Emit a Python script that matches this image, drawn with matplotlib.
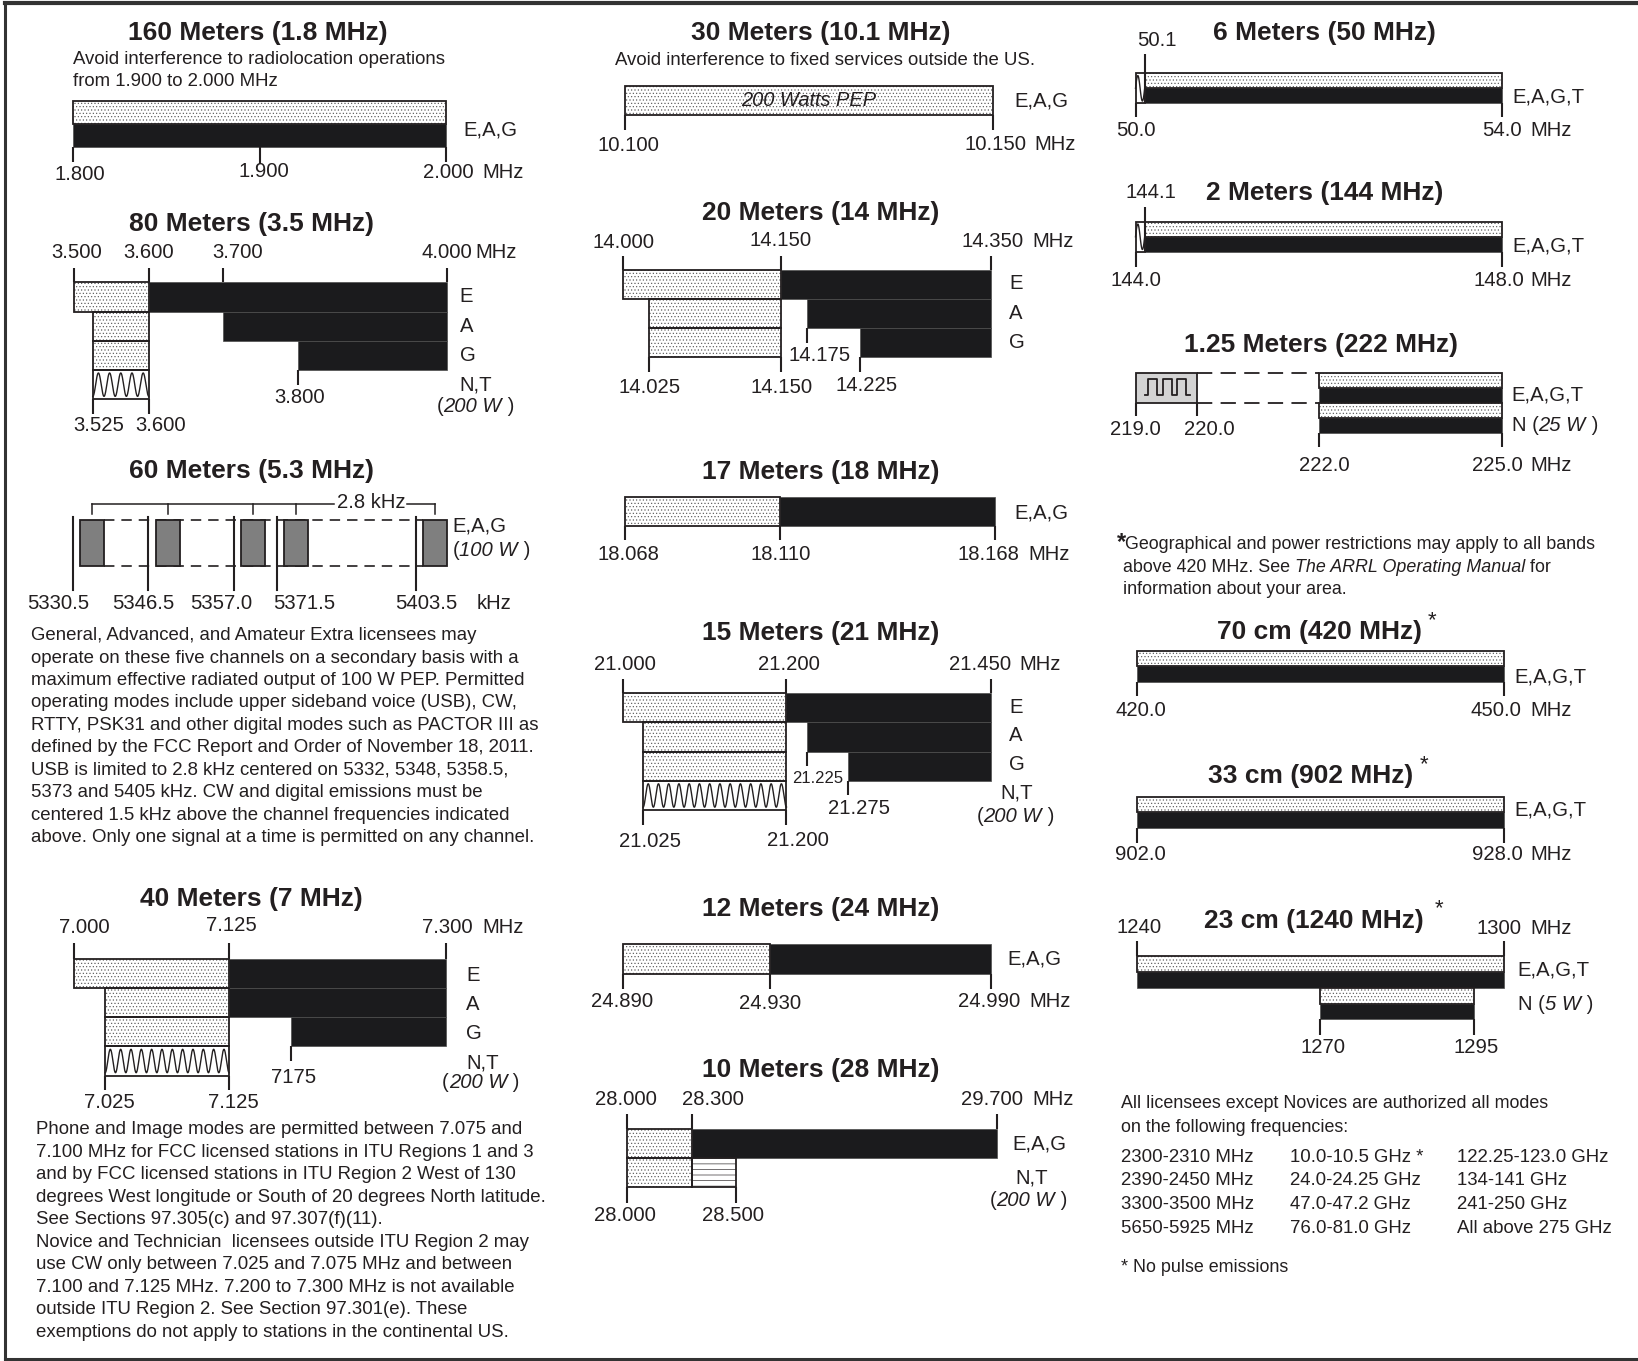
import numpy as np
import matplotlib
matplotlib.use("Agg")
import matplotlib.pyplot as plt
from matplotlib.patches import Rectangle

plt.rcParams['font.family'] = ['Liberation Sans', 'DejaVu Sans']
plt.rcParams['hatch.linewidth'] = 0.45
plt.rcParams['lines.scale_dashes'] = False

# ======================= DATA =======================
# segment tuples: (kind, start MHz, end MHz, lane, n_lanes)
b160_title = "160 Meters (1.8 MHz)"
b160_note = ["Avoid interference to radiolocation operations", "from 1.900 to 2.000 MHz"]
b160_range = [1.800, 2.000]
b160_segs = [("stip", 1.800, 2.000, 0, 1), ("black", 1.800, 2.000, 1, 1)]
b160_tick_f = [1.800, 1.900, 2.000]
b160_tick_lbl = ["1.800", "1.900", "2.000"]
b160_rows = ["E,A,G"]

b80_title = "80 Meters (3.5 MHz)"
b80_range = [3.500, 4.000]
b80_segs = [("stip", 3.500, 3.600, 0, 1), ("black", 3.600, 4.000, 0, 1),
            ("stip", 3.525, 3.600, 1, 1), ("black", 3.700, 4.000, 1, 1),
            ("stip", 3.525, 3.600, 2, 1), ("black", 3.800, 4.000, 2, 1),
            ("wave", 3.525, 3.600, 3, 1)]
b80_tick_f = [3.500, 3.600, 3.700, 4.000, 3.525, 3.600, 3.800]
b80_tick_lbl = ["3.500", "3.600", "3.700", "4.000", "3.525", "3.600", "3.800"]
b80_rows = ["E", "A", "G", "N,T"]
b80_power = "200 W"

b60_title = "60 Meters (5.3 MHz)"
b60_channels = ["5330.5", "5346.5", "5357.0", "5371.5", "5403.5"]
b60_bandwidth = "2.8 kHz"
b60_rows = ["E,A,G"]
b60_power = "100 W"
b60_text = ["General, Advanced, and Amateur Extra licensees may",
            "operate on these five channels on a secondary basis with a",
            "maximum effective radiated output of 100 W PEP. Permitted",
            "operating modes include upper sideband voice (USB), CW,",
            "RTTY, PSK31 and other digital modes such as PACTOR III as",
            "defined by the FCC Report and Order of November 18, 2011.",
            "USB is limited to 2.8 kHz centered on 5332, 5348, 5358.5,",
            "5373 and 5405 kHz. CW and digital emissions must be",
            "centered 1.5 kHz above the channel frequencies indicated",
            "above. Only one signal at a time is permitted on any channel."]

b40_title = "40 Meters (7 MHz)"
b40_range = [7.000, 7.300]
b40_segs = [("stip", 7.000, 7.125, 0, 1), ("black", 7.125, 7.300, 0, 1),
            ("stip", 7.025, 7.125, 1, 1), ("black", 7.125, 7.300, 1, 1),
            ("stip", 7.025, 7.125, 2, 1), ("black", 7.175, 7.300, 2, 1),
            ("wave", 7.025, 7.125, 3, 1)]
b40_tick_f = [7.000, 7.125, 7.300, 7.025, 7.125, 7.175]
b40_tick_lbl = ["7.000", "7.125", "7.300", "7.025", "7.125", "7175"]
b40_rows = ["E", "A", "G", "N,T"]
b40_power = "200 W"
b40_text = ["Phone and Image modes are permitted between 7.075 and",
            "7.100 MHz for FCC licensed stations in ITU Regions 1 and 3",
            "and by FCC licensed stations in ITU Region 2 West of 130",
            "degrees West longitude or South of 20 degrees North latitude.",
            "See Sections 97.305(c) and 97.307(f)(11).",
            "Novice and Technician  licensees outside ITU Region 2 may",
            "use CW only between 7.025 and 7.075 MHz and between",
            "7.100 and 7.125 MHz. 7.200 to 7.300 MHz is not available",
            "outside ITU Region 2. See Section 97.301(e). These",
            "exemptions do not apply to stations in the continental US."]

b30_title = "30 Meters (10.1 MHz)"
b30_note = "Avoid interference to fixed services outside the US."
b30_range = [10.100, 10.150]
b30_segs = [("stip", 10.100, 10.150, 0, 1)]
b30_inside = "200 Watts PEP"
b30_tick_f = [10.100, 10.150]
b30_tick_lbl = ["10.100", "10.150"]
b30_rows = ["E,A,G"]

b20_title = "20 Meters (14 MHz)"
b20_range = [14.000, 14.350]
b20_segs = [("stip", 14.000, 14.150, 0, 1), ("black", 14.150, 14.350, 0, 1),
            ("stip", 14.025, 14.150, 1, 1), ("black", 14.175, 14.350, 1, 1),
            ("stip", 14.025, 14.150, 2, 1), ("black", 14.225, 14.350, 2, 1)]
b20_tick_f = [14.000, 14.150, 14.350, 14.025, 14.150, 14.175, 14.225]
b20_tick_lbl = ["14.000", "14.150", "14.350", "14.025", "14.150", "14.175", "14.225"]
b20_rows = ["E", "A", "G"]

b17_title = "17 Meters (18 MHz)"
b17_range = [18.068, 18.168]
b17_segs = [("stip", 18.068, 18.110, 0, 1), ("black", 18.110, 18.168, 0, 1)]
b17_tick_f = [18.068, 18.110, 18.168]
b17_tick_lbl = ["18.068", "18.110", "18.168"]
b17_rows = ["E,A,G"]

b15_title = "15 Meters (21 MHz)"
b15_range = [21.000, 21.450]
b15_segs = [("stip", 21.000, 21.200, 0, 1), ("black", 21.200, 21.450, 0, 1),
            ("stip", 21.025, 21.200, 1, 1), ("black", 21.225, 21.450, 1, 1),
            ("stip", 21.025, 21.200, 2, 1), ("black", 21.275, 21.450, 2, 1),
            ("wave", 21.025, 21.200, 3, 1)]
b15_tick_f = [21.000, 21.200, 21.450, 21.225, 21.275, 21.025, 21.200]
b15_tick_lbl = ["21.000", "21.200", "21.450", "21.225", "21.275", "21.025", "21.200"]
b15_rows = ["E", "A", "G", "N,T"]
b15_power = "200 W"

b12_title = "12 Meters (24 MHz)"
b12_range = [24.890, 24.990]
b12_segs = [("stip", 24.890, 24.930, 0, 1), ("black", 24.930, 24.990, 0, 1)]
b12_tick_f = [24.890, 24.930, 24.990]
b12_tick_lbl = ["24.890", "24.930", "24.990"]
b12_rows = ["E,A,G"]

b10_title = "10 Meters (28 MHz)"
b10_range = [28.000, 29.700]
b10_segs = [("stip", 28.000, 28.300, 0, 1), ("black", 28.300, 29.700, 0, 1),
            ("stip", 28.000, 28.300, 1, 1), ("hlines", 28.300, 28.500, 1, 1)]
b10_tick_f = [28.000, 28.300, 29.700, 28.000, 28.500]
b10_tick_lbl = ["28.000", "28.300", "29.700", "28.000", "28.500"]
b10_rows = ["E,A,G", "N,T"]
b10_power = "200 W"

b6_title = "6 Meters (50 MHz)"
b6_range = [50.0, 54.0]
b6_segs = [("wave", 50.0, 50.1, 0, 2), ("stip", 50.1, 54.0, 0, 1), ("black", 50.1, 54.0, 1, 1)]
b6_tick_f = [50.1, 50.0, 54.0]
b6_tick_lbl = ["50.1", "50.0", "54.0"]
b6_rows = ["E,A,G,T"]

b2_title = "2 Meters (144 MHz)"
b2_range = [144.0, 148.0]
b2_segs = [("wave", 144.0, 144.1, 0, 2), ("stip", 144.1, 148.0, 0, 1), ("black", 144.1, 148.0, 1, 1)]
b2_tick_f = [144.1, 144.0, 148.0]
b2_tick_lbl = ["144.1", "144.0", "148.0"]
b2_rows = ["E,A,G,T"]

b125_title = "1.25 Meters (222 MHz)"
b125_range = [219.0, 225.0]
b125_segs = [("pulse", 219.0, 220.0, 0, 2),
             ("stip", 222.0, 225.0, 0, 1), ("black", 222.0, 225.0, 1, 1),
             ("stip", 222.0, 225.0, 2, 1), ("black", 222.0, 225.0, 3, 1)]
b125_gap = [220.0, 222.0]
b125_tick_f = [219.0, 220.0, 222.0, 225.0]
b125_tick_lbl = ["219.0", "220.0", "222.0", "225.0"]
b125_rows = ["E,A,G,T", "N"]
b125_power = "25 W"

foot_line1 = "Geographical and power restrictions may apply to all bands"
foot_line2 = [("above 420 MHz. See ", "normal"), ("The ARRL Operating Manual", "italic"), (" for", "normal")]
foot_line3 = "information about your area."

b70_title = "70 cm (420 MHz)"
b70_range = [420.0, 450.0]
b70_segs = [("stip", 420.0, 450.0, 0, 1), ("black", 420.0, 450.0, 1, 1)]
b70_tick_f = [420.0, 450.0]
b70_tick_lbl = ["420.0", "450.0"]
b70_rows = ["E,A,G,T"]

b33_title = "33 cm (902 MHz)"
b33_range = [902.0, 928.0]
b33_segs = [("stip", 902.0, 928.0, 0, 1), ("black", 902.0, 928.0, 1, 1)]
b33_tick_f = [902.0, 928.0]
b33_tick_lbl = ["902.0", "928.0"]
b33_rows = ["E,A,G,T"]

b23_title = "23 cm (1240 MHz)"
b23_range = [1240, 1300]
b23_segs = [("stip", 1240, 1300, 0, 1), ("black", 1240, 1300, 1, 1),
            ("stip", 1270, 1295, 2, 1), ("black", 1270, 1295, 3, 1)]
b23_tick_f = [1240, 1300, 1270, 1295]
b23_tick_lbl = ["1240", "1300", "1270", "1295"]
b23_rows = ["E,A,G,T", "N"]
b23_power = "5 W"

allmodes_intro = ["All licensees except Novices are authorized all modes",
                  "on the following frequencies:"]
allmodes_col1 = ["2300-2310 MHz", "2390-2450 MHz", "3300-3500 MHz", "5650-5925 MHz"]
allmodes_col2 = ["10.0-10.5 GHz *", "24.0-24.25 GHz", "47.0-47.2 GHz", "76.0-81.0 GHz"]
allmodes_col3 = ["122.25-123.0 GHz", "134-141 GHz", "241-250 GHz", "All above 275 GHz"]
allmodes_note = "* No pulse emissions"

# ======================= STYLE / LAYOUT =======================
W, H = 1568.0, 1302.0
INK = '#231f20'
FILL = '#1b1b1d'
TITLE_FS = 19
LBL_FS = 14.6
BODY_FS = 13.4
RBODY_FS = 12.9

fig = plt.figure(figsize=(16.38, 13.61), dpi=100)
fig.patch.set_facecolor('white')
ax0 = fig.add_axes([0, 0, 1, 1])
ax0.set_xlim(0, W)
ax0.set_ylim(H, 0)
ax0.axis('off')


def band_axes(px0, px1, rng):
    ax = fig.add_axes([px0 / W, 0, (px1 - px0) / W, 1])
    ax.set_xlim(rng[0], rng[1])
    ax.set_ylim(H, 0)
    ax.axis('off')
    ax.set_facecolor('none')
    ax.pxscale = (px1 - px0) / (rng[1] - rng[0])
    return ax


def draw_segs(ax, segs, top, lane_h):
    for kind, f0, f1, lane, n in segs:
        y0 = top + lane * lane_h
        y1 = y0 + n * lane_h
        w, h = f1 - f0, y1 - y0
        if kind == 'black':
            ax.add_patch(Rectangle((f0, y0), w, h, fc=FILL, ec='#4d4d4d', lw=0.5,
                                   clip_on=False, zorder=2))
            continue
        if kind == 'stip':
            ax.add_patch(Rectangle((f0, y0), w, h, fc='white', ec='#5a5a5a', lw=0,
                                   hatch='.....', clip_on=False, zorder=2))
        elif kind == 'hlines':
            ax.add_patch(Rectangle((f0, y0), w, h, fc='white', ec=INK, lw=0,
                                   hatch='---', clip_on=False, zorder=2))
        elif kind == 'wave':
            ax.add_patch(Rectangle((f0, y0), w, h, fc='white', ec='none', lw=0,
                                   clip_on=False, zorder=2))
            ncyc = max(1, int(round(w * ax.pxscale / 10.0)))
            t = np.linspace(0, 1, 80 * ncyc)
            if ncyc == 1:
                yy = (y0 + y1) / 2 - 0.42 * h * np.sin(2 * np.pi * t)
            else:
                yy = (y0 + y1) / 2 - 0.40 * h * np.cos(2 * np.pi * ncyc * t + np.pi)
            ax.plot(f0 + w * t, yy, color=INK, lw=1.0, clip_on=False, zorder=3)
        elif kind == 'pulse':
            ax.add_patch(Rectangle((f0, y0), w, h, fc='#d3d3d3', ec='none', lw=0,
                                   clip_on=False, zorder=2))
            xs = np.array([0.15, 0.20, 0.20, 0.35, 0.35, 0.45, 0.45, 0.59, 0.59, 0.68, 0.68, 0.82, 0.82, 0.89])
            ys = np.array([0.73, 0.73, 0.2, 0.2, 0.73, 0.73, 0.2, 0.2, 0.73, 0.73, 0.2, 0.2, 0.73, 0.73])
            ax.plot(f0 + w * xs, y0 + h * ys, color=INK, lw=1.3, clip_on=False, zorder=3)
        ax.add_patch(Rectangle((f0, y0), w, h, fill=False, ec=INK, lw=1.3,
                               clip_on=False, zorder=4))


def draw_ticks(ax, freqs, labels, tick_y, lbl_pos, small=()):
    for i, (f, s) in enumerate(zip(freqs, labels)):
        y0, y1 = tick_y[i]
        ax.plot([f, f], [y0, y1], color=INK, lw=1.5, clip_on=False, zorder=5,
                solid_capstyle='butt')
        ly, dx = lbl_pos[i]
        ax.text(f + dx / ax.pxscale, ly, s, ha='center', va='center',
                fontsize=(12.0 if i in small else LBL_FS), color=INK, zorder=6)


def t0(x, y, s, ha='left', fs=LBL_FS, **kw):
    return ax0.text(x, y, s, ha=ha, va='center', fontsize=fs, color=INK, **kw)


def rich(x, y, pieces, fs=LBL_FS):
    t = t0(x, y, pieces[0][0], fs=fs, fontstyle=pieces[0][1])
    for s, st in pieces[1:]:
        t = ax0.annotate(s, xy=(1, 0), xycoords=t, ha='left', va='bottom',
                         fontsize=fs, fontstyle=st, color=INK)
    return t


def power(s, prefix=""):
    return [(prefix + "(", "normal"), (s, "italic"), (" )", "normal")]


def title(x, y, s):
    t0(x, y, s, ha='center', fs=TITLE_FS, fontweight='bold')


# frame
ax0.plot([5, 5], [3, 1300], color='#333333', lw=2.2, clip_on=False)
ax0.plot([5, W + 5], [3, 3], color='#333333', lw=3.0, clip_on=False)
ax0.plot([5, W + 5], [1300, 1300], color='#333333', lw=2.2, clip_on=False)

# ---------- 160 m ----------
title(247, 32, b160_title)
for i, s in enumerate(b160_note):
    t0(70, 57 + 21 * i, s, fs=BODY_FS)
ax = band_axes(70, 427, b160_range)
draw_segs(ax, b160_segs, 97, 22)
draw_ticks(ax, b160_tick_f, b160_tick_lbl, [(141, 155), (141, 157), (141, 155)],
           [(167, 6), (164, 4), (165, 2)])
t0(462, 165, "MHz")
t0(444, 124, b160_rows[0])

# ---------- 80 m ----------
title(241, 214, b80_title)
ax = band_axes(71, 428, b80_range)
draw_segs(ax, b80_segs, 270, 28)
draw_ticks(ax, b80_tick_f, b80_tick_lbl,
           [(256, 270), (256, 270), (256, 270), (256, 270), (382, 396), (382, 396), (354, 368)],
           [(242, 2), (242, 0), (242, 14), (242, 0), (407, 6), (407, 11), (380, 2)])
t0(455, 242, "MHz")
for i, s in enumerate(b80_rows):
    t0(440, 284 + 28 * i, s)
rich(418, 389, power(b80_power))

# ---------- 60 m ----------
title(241, 451, b60_title)
slot_x = [70, 142, 224, 265, 398]
lbl_x = [56, 137, 212, 291, 408]
box_top, box_bot = 497, 541
ax0.plot([100, 405], [box_top, box_top], color=INK, lw=1.2, ls=(0, (7.5, 5)), zorder=1)
ax0.plot([100, 405], [box_bot, box_bot], color=INK, lw=1.2, ls=(0, (7.5, 5)), zorder=1)
centers = []
for x, s, lx in zip(slot_x, b60_channels, lbl_x):
    ax0.plot([x, x], [box_top - 2, 564], color=INK, lw=1.5, zorder=5)
    ax0.add_patch(Rectangle((x + 7, box_top), 23, box_bot - box_top, fc='#7f7f7f',
                            ec=INK, lw=1.3, zorder=4))
    centers.append(x + 18.5)
    t0(lx, 577, s, ha='center')
t0(456, 577, "kHz")
ax0.plot([centers[0], 320], [482, 482], color=INK, lw=1.1)
ax0.plot([390, centers[-1]], [482, 482], color=INK, lw=1.1)
for c in centers:
    ax0.plot([c, c], [482, 492], color=INK, lw=1.1)
t0(355, 481, b60_bandwidth, ha='center')
t0(433, 503, b60_rows[0])
rich(433, 527, power(b60_power))
for i, s in enumerate(b60_text):
    t0(30, 608 + 21.5 * i, s, fs=BODY_FS)

# ---------- 40 m ----------
title(241, 860, b40_title)
ax = band_axes(71, 427, b40_range)
draw_segs(ax, b40_segs, 917, 28)
draw_ticks(ax, b40_tick_f, b40_tick_lbl,
           [(902, 917), (902, 917), (902, 917), (1029, 1043), (1029, 1043), (1001, 1015)],
           [(887, 10), (885, 2), (887, 1), (1055, 4), (1055, 4), (1031, 2)])
t0(462, 887, "MHz")
for i, s in enumerate(b40_rows):
    t0(446, 933 + 28 * i, s)
rich(423, 1036, power(b40_power))
for i, s in enumerate(b40_text):
    t0(34, 1081 + 21.5 * i, s, fs=BODY_FS)

# ---------- 30 m ----------
title(786, 32, b30_title)
t0(790, 58, b30_note, ha='center', fs=BODY_FS)
ax = band_axes(598, 951, b30_range)
draw_segs(ax, b30_segs, 82, 28)
ax.text(np.mean(b30_range), 96, b30_inside, ha='center', va='center', fontsize=BODY_FS + 1.0,
        fontstyle='italic', color=INK, zorder=6)
draw_ticks(ax, b30_tick_f, b30_tick_lbl, [(110, 124), (110, 124)], [(139, 4), (138, 2)])
t0(990, 138, "MHz")
t0(971, 97, b30_rows[0])

# ---------- 20 m ----------
title(786, 204, b20_title)
ax = band_axes(596, 949, b20_range)
draw_segs(ax, b20_segs, 258, 28)
draw_ticks(ax, b20_tick_f, b20_tick_lbl,
           [(245, 258), (245, 258), (245, 258), (342, 356), (342, 356), (314, 328), (342, 356)],
           [(232, 1), (230, 0), (231, 1), (371, 1), (371, 1), (340, 12), (369, 7)])
t0(988, 231, "MHz")
for i, s in enumerate(b20_rows):
    t0(966, 271 + 28.5 * i, s)

# ---------- 17 m ----------
title(786, 452, b17_title)
ax = band_axes(598, 952, b17_range)
draw_segs(ax, b17_segs, 475, 28)
draw_ticks(ax, b17_tick_f, b17_tick_lbl, [(503, 517)] * 3, [(530, 4), (530, 1), (530, -6)])
t0(984, 530, "MHz")
t0(971, 491, b17_rows[0])

# ---------- 15 m ----------
title(786, 606, b15_title)
ax = band_axes(596, 949, b15_range)
draw_segs(ax, b15_segs, 663, 28)
draw_ticks(ax, b15_tick_f, b15_tick_lbl,
           [(650, 663), (650, 663), (650, 663), (719, 733), (747, 761), (775, 789), (775, 789)],
           [(636, 2), (636, 2), (636, -11), (745, 10), (773, 11), (805, 7), (804, 11)],
           small=(3,))
t0(976, 636, "MHz")
for i, s in enumerate(b15_rows[:3]):
    t0(966, 677 + 27 * i, s)
t0(958, 759, b15_rows[3])
rich(935, 781, power(b15_power))

# ---------- 12 m ----------
title(786, 870, b12_title)
ax = band_axes(596, 949, b12_range)
draw_segs(ax, b12_segs, 903, 29)
draw_ticks(ax, b12_tick_f, b12_tick_lbl, [(932, 946)] * 3, [(958, -1), (960, 0), (958, -2)])
t0(985, 958, "MHz")
t0(964, 917, b12_rows[0])

# ---------- 10 m ----------
title(786, 1024, b10_title)
ax = band_axes(600, 954, b10_range)
draw_segs(ax, b10_segs, 1080, 28)
draw_ticks(ax, b10_tick_f, b10_tick_lbl,
           [(1066, 1080), (1066, 1080), (1066, 1080), (1136, 1151), (1136, 1151)],
           [(1052, -1), (1052, 20), (1052, -4), (1163, -2), (1163, -2)])
t0(988, 1052, "MHz")
t0(969, 1094, b10_rows[0])
t0(972, 1127, b10_rows[1])
rich(947, 1148, power(b10_power))

# ---------- 6 m ----------
title(1268, 32, b6_title)
ax = band_axes(1087, 1438, b6_range)
draw_segs(ax, b6_segs, 70, 14.5)
draw_ticks(ax, b6_tick_f, b6_tick_lbl, [(52, 99), (99, 112), (99, 112)],
           [(39, 12), (125, 0), (125, 0)])
t0(1465, 125, "MHz")
t0(1448, 93, b6_rows[0])

# ---------- 2 m ----------
title(1268, 185, b2_title)
ax = band_axes(1087, 1438, b2_range)
draw_segs(ax, b2_segs, 212, 14.5)
draw_ticks(ax, b2_tick_f, b2_tick_lbl, [(198, 241), (241, 255), (241, 255)],
           [(184, 6), (268, 0), (268, -3)])
t0(1465, 268, "MHz")
t0(1448, 235, b2_rows[0])

# ---------- 1.25 m ----------
title(1265, 330, b125_title)
ax = band_axes(1087, 1438, b125_range)
draw_segs(ax, b125_segs, 357, 14.3)
for yy in (357, 385.6):
    ax.plot(b125_gap, [yy, yy], color=INK, lw=1.3, ls=(0, (11, 6)), clip_on=False, zorder=1)
draw_ticks(ax, b125_tick_f, b125_tick_lbl, [(385.6, 398), (385.6, 398), (414, 428), (414, 428)],
           [(411, 0), (411, 12), (445, 5), (445, -5)])
t0(1465, 445, "MHz")
t0(1447, 378, b125_rows[0])
rich(1447, 407, power(b125_power, prefix=b125_rows[1] + " "))

# ---------- footnote ----------
t0(1069, 519, "*", fs=17, fontweight='bold')
t0(1077, 521, foot_line1, fs=RBODY_FS)
rich(1075, 542.5, foot_line2, fs=RBODY_FS)
t0(1075, 564, foot_line3, fs=RBODY_FS)

# ---------- 70 cm ----------
title(1263, 605, b70_title)
t0(1367, 594, "*", fs=16)
ax = band_axes(1088, 1440, b70_range)
draw_segs(ax, b70_segs, 623, 14.5)
draw_ticks(ax, b70_tick_f, b70_tick_lbl, [(652, 666)] * 2, [(680, 4), (680, -8)])
t0(1465, 680, "MHz")
t0(1450, 648, b70_rows[0])

# ---------- 33 cm ----------
title(1255, 742, b33_title)
t0(1359, 732, "*", fs=16)
ax = band_axes(1088, 1440, b33_range)
draw_segs(ax, b33_segs, 762, 15)
draw_ticks(ax, b33_tick_f, b33_tick_lbl, [(792, 806)] * 2, [(817, 4), (817, -7)])
t0(1465, 817, "MHz")
t0(1450, 775, b33_rows[0])

# ---------- 23 cm ----------
title(1258, 881, b23_title)
t0(1373, 869, "*", fs=16)
ax = band_axes(1088, 1440, b23_range)
draw_segs(ax, b23_segs, 915, 15)
draw_ticks(ax, b23_tick_f, b23_tick_lbl, [(900, 915), (900, 915), (975, 990), (975, 990)],
           [(887, 2), (888, -5), (1002, 2), (1002, 2)])
t0(1465, 888, "MHz")
t0(1453, 928, b23_rows[0])
rich(1453, 961, power(b23_power, prefix=b23_rows[1] + " "))

# ---------- all-modes table ----------
for i, s in enumerate(allmodes_intro):
    t0(1073, 1056 + 23 * i, s, fs=RBODY_FS)
for col, x in zip((allmodes_col1, allmodes_col2, allmodes_col3), (1073, 1235, 1395)):
    for i, s in enumerate(col):
        t0(x, 1107 + 22.7 * i, s, fs=BODY_FS)
t0(1073, 1213, allmodes_note, fs=RBODY_FS)

fig.savefig("out.png", dpi=100, facecolor='white')
